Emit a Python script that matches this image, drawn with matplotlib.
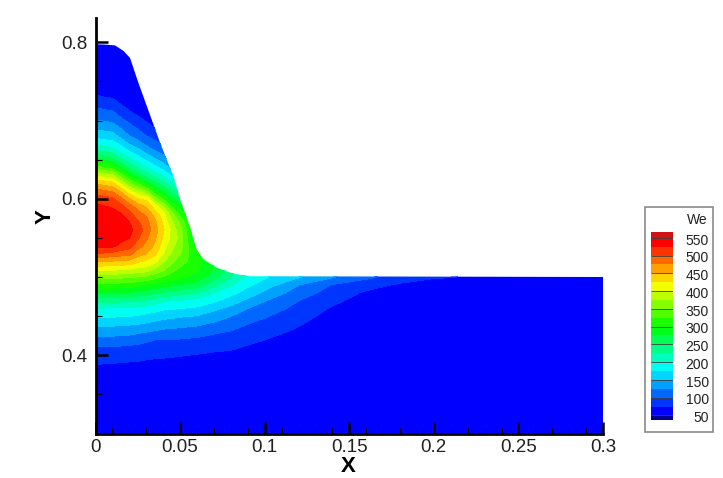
import numpy as np
import matplotlib
matplotlib.use('Agg')
import matplotlib.pyplot as plt
from matplotlib.colors import LinearSegmentedColormap, ListedColormap, BoundaryNorm
from matplotlib.patches import Polygon, Rectangle
from matplotlib.ticker import FixedLocator, MultipleLocator

plt.rcParams['font.family'] = ['Liberation Sans', 'DejaVu Sans']

# free surface
surf_x = [0, 0.0056, 0.0115, 0.0165, 0.0204, 0.0253, 0.0303, 0.0381, 0.046, 0.05, 0.0549,
          0.0598, 0.0637, 0.0716, 0.0813, 0.0913, 0.3]
surf_y = [0.7974, 0.797, 0.796, 0.789, 0.78, 0.7485, 0.7186, 0.672, 0.629, 0.5994, 0.5696,
          0.5355, 0.5227, 0.512, 0.5044, 0.501, 0.5]

# Lists stop just above the free surface, the rest is clipped away anyway.
y_st = [0.30, 0.34, 0.36, 0.38, 0.39, 0.40, 0.41, 0.42, 0.43, 0.44, 0.45, 0.46, 0.47, 0.48, 0.49,
        0.50, 0.51, 0.52, 0.53, 0.54, 0.55, 0.56, 0.57, 0.58, 0.59, 0.60, 0.61, 0.62, 0.63, 0.64,
        0.65, 0.66, 0.67, 0.68, 0.69, 0.70, 0.71, 0.72, 0.73, 0.74, 0.76, 0.80, 0.84]
x_st = [0, 0.01, 0.015, 0.02, 0.025, 0.03, 0.035, 0.04, 0.045, 0.05, 0.06, 0.07, 0.08, 0.09, 0.10,
        0.12, 0.14, 0.16, 0.18, 0.20, 0.30]
we_x000 = [50, 55, 60, 68, 76, 87, 98, 117, 137, 156, 178, 198, 233, 279, 317, 358, 407, 450, 500, 530, 543, 548,
           545, 538, 530, 515, 483, 444, 394, 334, 283, 233, 194, 166, 145, 126, 110, 92, 77, 68, 55, 50, 50]
we_x010 = [50, 55, 60, 67, 75, 86, 98, 116, 135, 155, 177, 197, 232, 278, 316, 356, 405, 447, 492, 530, 540, 546,
           542, 533, 522, 503, 470, 430, 375, 310, 258, 217, 184, 160, 138, 119, 103, 87, 72, 63, 54, 50, 50]
we_x015 = [50, 55, 59, 66, 74, 85, 96, 114, 134, 153, 176, 196, 230, 272, 314, 354, 402, 444, 487, 518, 532, 540,
           535, 527, 508, 479, 443, 390, 333, 275, 230, 192, 169, 141, 123, 105, 90, 75, 65, 59, 53, 50, 50]
we_x020 = [50, 55, 59, 65, 73, 84, 95, 112, 133, 152, 175, 196, 229, 271, 312, 352, 400, 442, 483, 510, 525, 532,
           525, 508, 486, 450, 405, 350, 290, 243, 207, 175, 147, 125, 109, 94, 77, 68, 60, 55, 52, 50, 50]
we_x025 = [50, 55, 58, 64, 72, 83, 94, 108, 129, 150, 172, 193, 225, 266, 306, 348, 392, 429, 461, 485, 503, 512,
           504, 485, 463, 425, 378, 317, 262, 222, 188, 160, 134, 113, 97, 82, 69, 60, 55]
we_x030 = [50, 54, 58, 63, 70, 81, 92, 104, 125, 146, 168, 190, 221, 262, 300, 342, 390, 419, 450, 467, 478, 490,
           483, 471, 446, 417, 350, 285, 235, 200, 169, 142, 118, 100, 85, 72, 62, 56, 52]
we_x035 = [50, 54, 57, 62, 69, 79, 88, 100, 121, 142, 163, 185, 212, 254, 292, 332, 370, 406, 431, 445, 454, 460,
           456, 440, 412, 357, 300, 254, 215, 181, 153, 127, 108, 90, 75, 65]
we_x040 = [50, 54, 57, 61, 69, 78, 89, 100, 118, 137, 158, 179, 204, 246, 285, 321, 355, 378, 400, 411, 420, 428,
           420, 410, 375, 319, 271, 231, 194, 164, 137, 115, 96, 79, 70]
we_x045 = [50, 53, 56, 60, 68, 77, 88, 99, 116, 135, 155, 177, 200, 240, 279, 312, 334, 355, 370, 382, 392, 392,
           380, 358, 318, 277, 238, 200, 169, 143, 120]
we_x050 = [50, 53, 56, 60, 67, 76, 87, 98, 115, 133, 152, 175, 198, 235, 273, 305, 320, 335, 350, 360, 365, 358,
           345, 318, 285, 250, 220]
we_x060 = [50, 52, 55, 59, 66, 73, 85, 95, 111, 129, 148, 170, 192, 225, 262, 290, 305, 310, 300, 285, 265]
we_x070 = [50, 52, 54, 58, 64, 70, 81, 92, 103, 120, 138, 155, 180, 200, 230, 258, 275, 270]
we_x080 = [50, 51, 53, 57, 62, 69, 78, 87, 98, 111, 125, 143, 162, 183, 202, 225, 235]
we_x090 = [50, 51, 52, 56, 60, 66, 72, 81, 90, 100, 112, 125, 144, 163, 180, 192, 200]
we_x100 = [50, 50, 51, 54, 57, 62, 68, 75, 84, 93, 102, 114, 126, 145, 162, 178, 185]
we_x120 = [50, 50, 50, 51, 53, 56, 60, 64, 70, 77, 85, 92, 100, 112, 125, 152, 158]
we_x140 = [50, 50, 50, 50, 50, 51, 52, 54, 57, 61, 65, 72, 81, 90, 98, 127, 130]
we_x160 = [50, 50, 50, 50, 50, 50, 50, 50, 51, 52, 54, 58, 64, 71, 85, 105, 108]
we_x180 = [50, 50, 50, 50, 50, 50, 50, 50, 50, 50, 51, 52, 55, 58, 71, 88, 90]
we_x200 = [50, 50, 50, 50, 50, 50, 50, 50, 50, 50, 50, 50, 51, 53, 60, 78, 80]
we_x300 = [50, 50, 50, 50, 50, 50, 50, 50, 50, 50, 50, 50, 50, 50, 51, 55, 55]
we_cols = [we_x000, we_x010, we_x015, we_x020, we_x025, we_x030, we_x035, we_x040, we_x045, we_x050,
           we_x060, we_x070, we_x080, we_x090, we_x100, we_x120, we_x140, we_x160, we_x180, we_x200, we_x300]

levels = list(range(50, 575, 25))
legend_ticks = list(range(50, 600, 50))

rainbow = LinearSegmentedColormap.from_list('small_rainbow', ['#0000ff', '#00ffff', '#00ff00', '#ffff00', '#ff0000'])
band_colors = [rainbow(t) for t in np.linspace(0, 1, len(levels) - 1)]

W, H = 723.0, 478.0
fig = plt.figure(figsize=(7.23, 4.78), dpi=100)
ax = fig.add_axes([95.5 / W, 1 - 433.5 / H, 507.5 / W, 415.5 / H])

# rows above the surface just repeat the last value read
Z = np.array([c + [c[-1]] * (len(y_st) - len(c)) for c in we_cols], dtype=float).T
X, Y = np.meshgrid(x_st, y_st)
cs = ax.contourf(X, Y, Z, levels=levels, cmap=ListedColormap(band_colors),
                 norm=BoundaryNorm(levels, len(levels) - 1), zorder=1)
cs.set_edgecolor('face')
cs.set_linewidth(0.4)

outline = list(zip(surf_x, surf_y)) + [(0.3, 0.3), (0, 0.3)]
clip = Polygon(outline, closed=True, facecolor='none', edgecolor='none', transform=ax.transData)
ax.add_patch(clip)
cs.set_clip_path(clip)

ax.set_xlim(0, 0.3)
ax.set_ylim(0.3, 0.831)
for s in ['top', 'right']:
    ax.spines[s].set_visible(False)
for s in ['left', 'bottom']:
    ax.spines[s].set_linewidth(2.0)

ax.xaxis.set_minor_locator(MultipleLocator(0.01))
ax.yaxis.set_major_locator(FixedLocator([0.4, 0.6, 0.8]))
ax.yaxis.set_minor_locator(FixedLocator([0.35, 0.45, 0.5, 0.55, 0.65, 0.7, 0.75]))
ax.set_xticks([0, 0.05, 0.1, 0.15, 0.2, 0.25, 0.3])
ax.set_xticklabels(['0', '0.05', '0.1', '0.15', '0.2', '0.25', '0.3'])
ax.set_yticklabels(['0.4', '0.6', '0.8'])
ax.tick_params(which='major', direction='in', length=8.5, width=1.8, labelsize=13.5, labelcolor='#222222')
ax.tick_params(which='minor', direction='in', length=4, width=0.8)
ax.tick_params(axis='x', which='major', pad=4)
ax.tick_params(axis='y', which='major', pad=6)

ax.set_xlabel('X', fontsize=16, fontweight='bold', va='center')
ax.set_ylabel('Y', fontsize=16, fontweight='bold', va='center')
ax.xaxis.set_label_coords(0.4975, -0.0795)
ax.yaxis.set_label_coords(-0.1, 0.523)

# legend box
fig.add_artist(Rectangle((645 / W, 1 - 432 / H), 67.7 / W, 225.3 / H, transform=fig.transFigure,
                         facecolor='white', edgecolor='#8a8a8a', linewidth=1.2))
cax = fig.add_axes([650.7 / W, 1 - 420 / H, 22.6 / W, 187.5 / H])
cax.set_zorder(3)
bounds = [37] + levels + [565]
legend_colors = ['#000090'] + band_colors + ['#d01414']
cax.pcolormesh([0, 1], bounds, np.arange(len(legend_colors)).reshape(-1, 1),
               cmap=ListedColormap(legend_colors), shading='flat')
cax.hlines(legend_ticks, 0, 1, color='#404040', linewidth=0.6)
cax.set_xlim(0, 1)
cax.set_ylim(37, 565)
cax.set_xticks([])
cax.set_yticks([])
for s in cax.spines.values():
    s.set_visible(False)
for v in legend_ticks:
    cax.annotate(str(v), (1, v), xycoords=('axes fraction', 'data'), xytext=(25.5, -2),
                 textcoords='offset points', ha='right', va='center', fontsize=10, color='#222222')
fig.text(707.5 / W, 1 - 219.5 / H, 'We', ha='right', va='center', fontsize=10, color='#222222', zorder=5)

fig.savefig('out.png', dpi=100)
